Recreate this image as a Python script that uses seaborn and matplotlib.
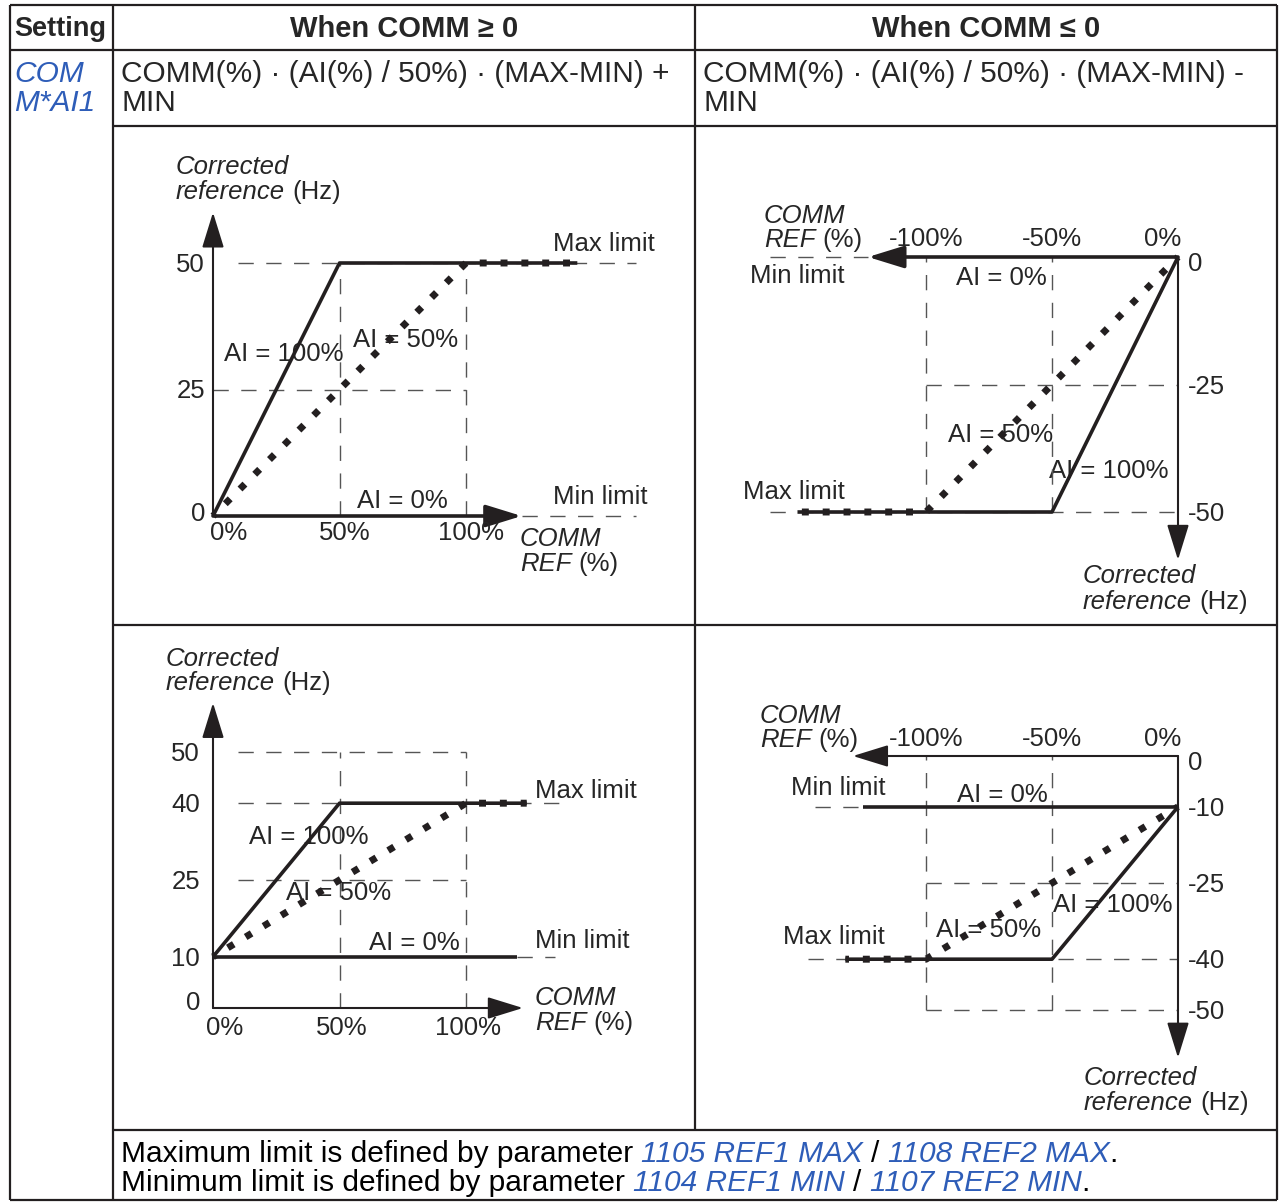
import matplotlib
matplotlib.use("Agg")
import matplotlib.pyplot as plt
import seaborn as sns

# ---- chart values -------------------------------------------------------
# top-left: COMM >= 0, min 0 Hz, max 50 Hz
tl_ai100_x = [0, 50, 144]
tl_ai100_y = [0, 50, 50]
tl_ai50_x = [0, 100, 144]
tl_ai50_y = [0, 50, 50]
tl_xticks = [0, 50, 100]
tl_yticks = [0, 25, 50]

# top-right: COMM <= 0, min 0 Hz, max 50 Hz
tr_ai100_x = [0, -50, -151]
tr_ai100_y = [0, -50, -50]
tr_ai50_x = [0, -100, -151]
tr_ai50_y = [0, -50, -50]
tr_xticks = [-100, -50, 0]
tr_yticks = [0, -25, -50]

# bottom-left: COMM >= 0, min 10 Hz, max 40 Hz
bl_ai0_x = [0, 120]
bl_ai0_y = [10, 10]
bl_ai100_x = [0, 50, 124]
bl_ai100_y = [10, 40, 40]
bl_ai50_x = [0, 100, 124]
bl_ai50_y = [10, 40, 40]
bl_xticks = [0, 50, 100]
bl_yticks = [0, 10, 25, 40, 50]

# bottom-right: COMM <= 0, min 10 Hz, max 40 Hz
br_ai0_x = [0, -125]
br_ai0_y = [-10, -10]
br_ai100_x = [0, -50, -132]
br_ai100_y = [-10, -40, -40]
br_ai50_x = [0, -100, -132]
br_ai50_y = [-10, -40, -40]
br_xticks = [-100, -50, 0]
br_yticks = [0, -10, -25, -40, -50]

INK = "#231f20"
GRID = "#555555"
BLUE = "#2e5db8"
W, H = 1279, 1202
FS = 18.5
DY = 2  # small downward nudge so text centres sit on the cap height

sns.set_style("white")
plt.rcParams["font.family"] = ["Liberation Sans", "DejaVu Sans"]

fig = plt.figure(figsize=(W / 100, H / 100), dpi=100)
bg = fig.add_axes([0, 0, 1, 1])
bg.set_xlim(0, W)
bg.set_ylim(H, 0)
bg.axis("off")
rend = fig.canvas.get_renderer()


def width(t):
    return t.get_window_extent(renderer=rend).width


def chain(x, y, parts, size=FS):
    # draw text pieces one after another, gap=True adds a space after the piece
    probe = bg.text(0, 0, "a a", fontsize=size)
    probe2 = bg.text(0, 0, "aa", fontsize=size)
    sp = width(probe) - width(probe2)
    probe.remove()
    probe2.remove()
    for s, kw, gap in parts:
        t = bg.text(x, y + DY, s, fontsize=size, ha="left", va="center", **kw)
        x += width(t) + (sp if gap else 0)


IT = {"style": "italic"}
BL_IT = {"style": "italic", "color": BLUE}
BK = {"color": "black"}
BIG = 21.5

# ---- table grid ---------------------------------------------------------
tlw = 1.6
bg.hlines([5, 50, 1200], 10, 1277, color=INK, lw=tlw)
bg.hlines([126, 625, 1130], 113, 1277, color=INK, lw=tlw)
bg.vlines([10, 113, 1277], 5, 1200, color=INK, lw=tlw)
bg.vlines([695], 5, 1130, color=INK, lw=tlw)

bg.text(14, 27 + DY, "Setting", fontsize=19.5, fontweight="bold", va="center")
bg.text(404, 27 + DY, "When COMM \u2265 0", fontsize=21, fontweight="bold",
        ha="center", va="center")
bg.text(986, 27 + DY, "When COMM \u2264 0", fontsize=21, fontweight="bold",
        ha="center", va="center")

bg.text(14, 72 + DY, "COM", fontsize=BIG, style="italic", color=BLUE, va="center")
bg.text(14, 101 + DY, "M*AI1", fontsize=BIG, style="italic", color=BLUE, va="center")
bg.text(121, 72 + DY, "COMM(%) \u00b7 (AI(%) / 50%) \u00b7 (MAX-MIN) +", fontsize=BIG, va="center")
bg.text(121, 101 + DY, "MIN", fontsize=BIG, va="center")
bg.text(703, 72 + DY, "COMM(%) \u00b7 (AI(%) / 50%) \u00b7 (MAX-MIN) -", fontsize=BIG, va="center")
bg.text(703, 101 + DY, "MIN", fontsize=BIG, va="center")

chain(121, 1152, [("Maximum limit is defined by parameter", BK, True),
                  ("1105 REF1 MAX", BL_IT, True), ("/", BK, True),
                  ("1108 REF2 MAX", BL_IT, False), (".", BK, False)], size=BIG)
chain(121, 1181, [("Minimum limit is defined by parameter", BK, True),
                  ("1104 REF1 MIN", BL_IT, True), ("/", BK, True),
                  ("1107 REF2 MIN", BL_IT, False), (".", BK, False)], size=BIG)


# ---- chart helpers ------------------------------------------------------
def panel(ox, oy, sx, sy, box):
    x0, y0, x1, y1 = box
    ax = fig.add_axes([x0 / W, 1 - y1 / H, (x1 - x0) / W, (y1 - y0) / H])
    ax.set_xlim((x0 - ox) / sx, (x1 - ox) / sx)
    ax.set_ylim((oy - y1) / sy, (oy - y0) / sy)
    ax.axis("off")
    return ax


def solid(ax, x, y):
    sns.lineplot(x=x, y=y, ax=ax, color=INK, lw=2.6, sort=False, estimator=None,
                 solid_capstyle="butt", clip_on=False, legend=False)


def dotted(ax, x, y):
    sns.lineplot(x=x, y=y, ax=ax, color=INK, lw=5.0, sort=False, estimator=None,
                 linestyle=(0.5, (1, 2.0)), dash_capstyle="butt", clip_on=False,
                 legend=False, zorder=3)


def guides(ax, hs, vs):
    for y, a, b in hs:
        ax.hlines(y, a, b, colors=GRID, lw=1.0, linestyles=(0, (11, 9)), clip_on=False)
    for x, a, b in vs:
        ax.vlines(x, a, b, colors=GRID, lw=1.0, linestyles=(0, (11, 9)), clip_on=False)


def arrow(ax, tip, lw):
    ax.annotate("", xy=tip, xytext=(0, 0), annotation_clip=False,
                arrowprops=dict(arrowstyle="-|>,head_length=0.55,head_width=0.17",
                                mutation_scale=40, lw=lw, color=INK,
                                shrinkA=0, shrinkB=0))


def tick(ax, x, y, s, dx, dy, ha):
    ax.annotate(s, (x, y), xytext=(dx, dy - DY), textcoords="offset pixels",
                ha=ha, va="center", fontsize=FS, annotation_clip=False)


# ---- top-left -----------------------------------------------------------
ax = panel(213, 516, 2.53, 5.06, (116, 128, 693, 623))
guides(ax, [(50, 10, 167), (25, 0, 100), (0, 122, 167)],
       [(50, 0, 50), (100, 0, 50)])
arrow(ax, (0, 60), 1.5)
arrow(ax, (122, 0), 2.6)
solid(ax, tl_ai100_x, tl_ai100_y)
dotted(ax, tl_ai50_x, tl_ai50_y)
for v in tl_yticks:
    tick(ax, 0, v, str(v), -8, 4 if v == 0 else 0, "right")
for v in tl_xticks:
    if v == 0:
        tick(ax, v, 0, f"{v}%", -3, -15, "left")
    else:
        tick(ax, v, 0, f"{v}%", 5, -15, "center")
chain(176, 165, [("Corrected", IT, False)])
chain(176, 190, [("reference", IT, True), ("(Hz)", {}, False)])
chain(520, 537, [("COMM", IT, False)])
chain(520, 562, [("REF", IT, True), ("(%)", {}, False)])
chain(553, 242, [("Max limit", {}, False)])
chain(553, 495, [("Min limit", {}, False)])
chain(224, 352, [("AI = 100%", {}, False)])
chain(353, 338, [("AI = 50%", {}, False)])
chain(357, 499, [("AI = 0%", {}, False)])

# ---- top-right ----------------------------------------------------------
ax = panel(1178, 257, 2.52, 5.1, (697, 128, 1275, 623))
guides(ax, [(-50, -162, 0), (-25, -100, 0), (0, -162, -123)],
       [(-100, -50, 0), (-50, -50, 0)])
arrow(ax, (0, -59.4), 1.5)
arrow(ax, (-123, 0), 2.6)
solid(ax, tr_ai100_x, tr_ai100_y)
dotted(ax, tr_ai50_x, tr_ai50_y)
for v in tr_yticks:
    tick(ax, 0, v, str(v), 10, -5 if v == 0 else 0, "left")
for v in tr_xticks:
    if v == 0:
        tick(ax, v, 0, f"{v}%", 3, 20, "right")
    else:
        tick(ax, v, 0, f"{v}%", 0, 20, "center")
chain(764, 214, [("COMM", IT, False)])
chain(764, 238, [("REF", IT, True), ("(%)", {}, False)])
chain(750, 274, [("Min limit", {}, False)])
chain(743, 490, [("Max limit", {}, False)])
chain(956, 276, [("AI = 0%", {}, False)])
chain(948, 433, [("AI = 50%", {}, False)])
chain(1049, 469, [("AI = 100%", {}, False)])
chain(1083, 574, [("Corrected", IT, False)])
chain(1083, 600, [("reference", IT, True), ("(Hz)", {}, False)])

# ---- bottom-left --------------------------------------------------------
ax = panel(213, 1008, 2.53, 5.12, (116, 627, 693, 1128))
guides(ax, [(50, 10, 100), (40, 10, 137), (25, 10, 100), (10, 120, 135)],
       [(50, 0, 50), (100, 0, 50)])
arrow(ax, (0, 59.6), 1.5)
arrow(ax, (122.5, 0), 1.5)
solid(ax, bl_ai0_x, bl_ai0_y)
solid(ax, bl_ai100_x, bl_ai100_y)
dotted(ax, bl_ai50_x, bl_ai50_y)
for v in bl_yticks:
    tick(ax, 0, v, str(v), -13, 7 if v == 0 else 0, "right")
for v in bl_xticks:
    if v == 0:
        tick(ax, v, 0, f"{v}%", -7, -18, "left")
    else:
        tick(ax, v, 0, f"{v}%", 2, -18, "center")
chain(166, 657, [("Corrected", IT, False)])
chain(166, 681, [("reference", IT, True), ("(Hz)", {}, False)])
chain(535, 996, [("COMM", IT, False)])
chain(535, 1021, [("REF", IT, True), ("(%)", {}, False)])
chain(535, 789, [("Max limit", {}, False)])
chain(535, 939, [("Min limit", {}, False)])
chain(249, 835, [("AI = 100%", {}, False)])
chain(286, 891, [("AI = 50%", {}, False)])
chain(369, 941, [("AI = 0%", {}, False)])

# ---- bottom-right -------------------------------------------------------
ax = panel(1178, 756, 2.52, 5.08, (697, 627, 1275, 1128))
guides(ax, [(-10, -144, -125), (-40, -147, 0), (-25, -100, 0), (-50, -100, 0)],
       [(-100, -50, 0), (-50, -50, 0)])
arrow(ax, (0, -59.4), 1.5)
arrow(ax, (-129, 0), 1.5)
solid(ax, br_ai0_x, br_ai0_y)
solid(ax, br_ai100_x, br_ai100_y)
dotted(ax, br_ai50_x, br_ai50_y)
for v in br_yticks:
    tick(ax, 0, v, str(v), 10, -5 if v == 0 else 0, "left")
for v in br_xticks:
    if v == 0:
        tick(ax, v, 0, f"{v}%", 3, 19, "right")
    else:
        tick(ax, v, 0, f"{v}%", 0, 19, "center")
chain(760, 714, [("COMM", IT, False)])
chain(760, 738, [("REF", IT, True), ("(%)", {}, False)])
chain(791, 786, [("Min limit", {}, False)])
chain(783, 935, [("Max limit", {}, False)])
chain(957, 793, [("AI = 0%", {}, False)])
chain(936, 928, [("AI = 50%", {}, False)])
chain(1053, 903, [("AI = 100%", {}, False)])
chain(1084, 1076, [("Corrected", IT, False)])
chain(1084, 1101, [("reference", IT, True), ("(Hz)", {}, False)])

fig.savefig("out.png", dpi=100, facecolor="white")
